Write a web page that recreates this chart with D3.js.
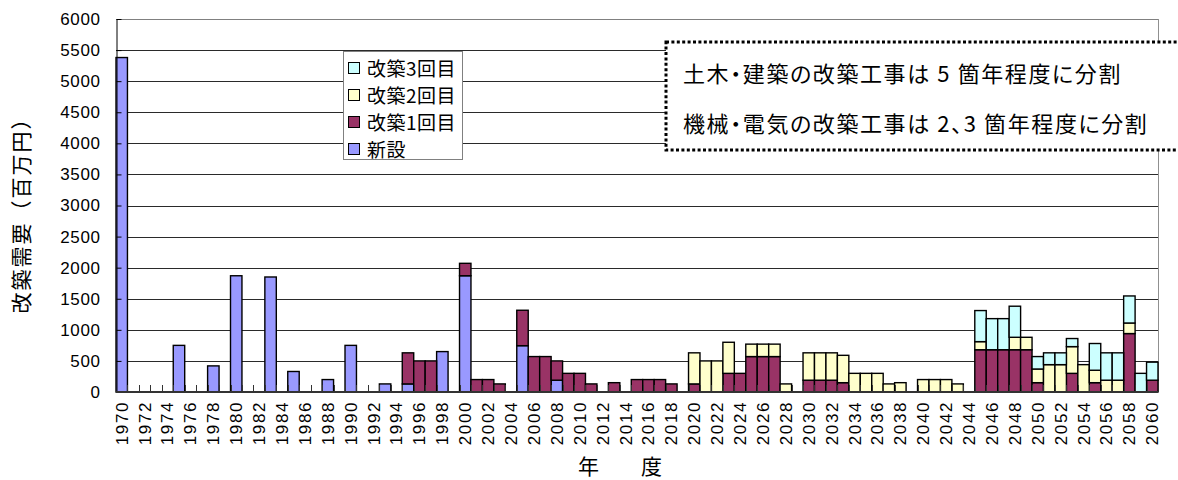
<!DOCTYPE html>
<html>
<head>
<meta charset="utf-8">
<script src="https://cdn.jsdelivr.net/npm/d3@7"></script>
<style>
  html, body { margin: 0; padding: 0; background: #fff; }
  svg { display: block; }
  .num { font-family: "Liberation Sans", Arial, sans-serif; font-size: 17px; fill: #000; letter-spacing: 0.6px; }
  .xnum { letter-spacing: 1.6px; }
  .jp { font-family: "Noto Sans CJK JP", "Noto Sans", sans-serif; fill: #000; }
  .palt { font-feature-settings: "palt" 1; }
</style>
</head>
<body>
<svg id="chart" width="1178" height="480"></svg>
<script>
// Fiscal years on the category axis
const years = [
  1970, 1971, 1972, 1973, 1974, 1975, 1976, 1977, 1978, 1979,
  1980, 1981, 1982, 1983, 1984, 1985, 1986, 1987, 1988, 1989,
  1990, 1991, 1992, 1993, 1994, 1995, 1996, 1997, 1998, 1999,
  2000, 2001, 2002, 2003, 2004, 2005, 2006, 2007, 2008, 2009,
  2010, 2011, 2012, 2013, 2014, 2015, 2016, 2017, 2018, 2019,
  2020, 2021, 2022, 2023, 2024, 2025, 2026, 2027, 2028, 2029,
  2030, 2031, 2032, 2033, 2034, 2035, 2036, 2037, 2038, 2039,
  2040, 2041, 2042, 2043, 2044, 2045, 2046, 2047, 2048, 2049,
  2050, 2051, 2052, 2053, 2054, 2055, 2056, 2057, 2058, 2059,
  2060
];

// 新設 (million yen)
const shinsetsu = [
  5380, 0, 0, 0, 0, 750, 0, 0, 420, 0,
  1870, 0, 0, 1850, 0, 330, 0, 0, 200, 0,
  750, 0, 0, 130, 0, 130, 0, 0, 650, 0,
  1870, 0, 0, 0, 0, 745, 0, 0, 190, 0,
  0, 0, 0, 0, 0, 0, 0, 0, 0, 0,
  0, 0, 0, 0, 0, 0, 0, 0, 0, 0,
  0, 0, 0, 0, 0, 0, 0, 0, 0, 0,
  0, 0, 0, 0, 0, 0, 0, 0, 0, 0,
  0, 0, 0, 0, 0, 0, 0, 0, 0, 0,
  0
];

// 改築1回目
const kaichiku1 = [
  0, 0, 0, 0, 0, 0, 0, 0, 0, 0,
  0, 0, 0, 0, 0, 0, 0, 0, 0, 0,
  0, 0, 0, 0, 0, 500, 500, 500, 0, 0,
  200, 200, 200, 130, 0, 570, 570, 570, 310, 300,
  300, 130, 0, 150, 0, 200, 200, 200, 130, 0,
  130, 0, 0, 300, 300, 570, 570, 570, 0, 0,
  190, 190, 190, 150, 0, 0, 0, 0, 0, 0,
  0, 0, 0, 0, 0, 680, 680, 680, 680, 680,
  150, 0, 0, 300, 0, 150, 0, 0, 940, 0,
  190
];

// 改築2回目
const kaichiku2 = [
  0, 0, 0, 0, 0, 0, 0, 0, 0, 0,
  0, 0, 0, 0, 0, 0, 0, 0, 0, 0,
  0, 0, 0, 0, 0, 0, 0, 0, 0, 0,
  0, 0, 0, 0, 0, 0, 0, 0, 0, 0,
  0, 0, 0, 0, 0, 0, 0, 0, 0, 0,
  500, 500, 500, 500, 0, 200, 200, 200, 130, 0,
  440, 440, 440, 440, 300, 300, 300, 130, 150, 0,
  200, 200, 200, 130, 0, 130, 0, 0, 200, 200,
  220, 440, 440, 430, 440, 200, 190, 190, 170, 0,
  0
];

// 改築3回目
const kaichiku3 = [
  0, 0, 0, 0, 0, 0, 0, 0, 0, 0,
  0, 0, 0, 0, 0, 0, 0, 0, 0, 0,
  0, 0, 0, 0, 0, 0, 0, 0, 0, 0,
  0, 0, 0, 0, 0, 0, 0, 0, 0, 0,
  0, 0, 0, 0, 0, 0, 0, 0, 0, 0,
  0, 0, 0, 0, 0, 0, 0, 0, 0, 0,
  0, 0, 0, 0, 0, 0, 0, 0, 0, 0,
  0, 0, 0, 0, 0, 500, 500, 500, 500, 0,
  200, 190, 190, 130, 0, 430, 440, 440, 435, 300,
  290
];

const seriesNames = ["新設", "改築1回目", "改築2回目", "改築3回目"];
const seriesColors = ["#9999FF", "#993366", "#FFFFCC", "#CCFFFF"];

const yTicks = [0, 500, 1000, 1500, 2000, 2500, 3000, 3500, 4000, 4500, 5000, 5500, 6000];
const xTickYears = [
  1970, 1972, 1974, 1976, 1978, 1980, 1982, 1984, 1986, 1988,
  1990, 1992, 1994, 1996, 1998, 2000, 2002, 2004, 2006, 2008,
  2010, 2012, 2014, 2016, 2018, 2020, 2022, 2024, 2026, 2028,
  2030, 2032, 2034, 2036, 2038, 2040, 2042, 2044, 2046, 2048,
  2050, 2052, 2054, 2056, 2058, 2060
];

const yTitle = "改築需要（百万円）";
const xTitle = "年　　度";
const noteLines = [
  "土木・建築の改築工事は 5 箇年程度に分割",
  "機械・電気の改築工事は 2、3 箇年程度に分割"
];

// ---- build table for the stack layout ----
const seriesArrays = [shinsetsu, kaichiku1, kaichiku2, kaichiku3];
const table = years.map((yr, i) => {
  const row = { year: yr };
  seriesNames.forEach((name, k) => { row[name] = seriesArrays[k][i]; });
  return row;
});

const svg = d3.select("#chart");
const plot = { left: 116, right: 1158, top: 19, bottom: 392 };

const x = d3.scaleBand().domain(years).range([plot.left, plot.right]).paddingInner(0).paddingOuter(0);
const y = d3.scaleLinear().domain([0, 6000]).range([plot.bottom, plot.top]);
const color = d3.scaleOrdinal().domain(seriesNames).range(seriesColors);
const crisp = v => Math.round(v) + 0.5;

// gridlines
svg.append("g")
  .selectAll("line")
  .data(yTicks.filter(v => v > 0 && v < 6000))
  .join("line")
  .attr("x1", plot.left).attr("x2", plot.right)
  .attr("y1", d => crisp(y(d))).attr("y2", d => crisp(y(d)))
  .attr("stroke", "#2a2a2a").attr("stroke-width", 1);

// plot-area frame (top and right)
svg.append("line")
  .attr("x1", plot.left).attr("x2", plot.right)
  .attr("y1", crisp(y(6000))).attr("y2", crisp(y(6000)))
  .attr("stroke", "#808080");
svg.append("line")
  .attr("x1", crisp(plot.right)).attr("x2", crisp(plot.right))
  .attr("y1", plot.top).attr("y2", plot.bottom)
  .attr("stroke", "#909090");

// stacked bars
const stacked = d3.stack().keys(seriesNames)(table);
svg.append("g")
  .selectAll("g")
  .data(stacked)
  .join("g")
  .attr("fill", d => color(d.key))
  .selectAll("rect")
  .data(d => d.filter(s => s[1] - s[0] > 0))
  .join("rect")
  .attr("x", d => x(d.data.year))
  .attr("width", x.bandwidth())
  .attr("y", d => y(d[1]))
  .attr("height", d => y(d[0]) - y(d[1]))
  .attr("stroke", "#000")
  .attr("stroke-width", 1.4);

// y axis: inward ticks, labels on the left
const yAxis = d3.axisLeft(y).tickValues(yTicks).tickFormat(d3.format("d"))
  .tickSizeInner(-5).tickSizeOuter(0).tickPadding(16);
const gy = svg.append("g").attr("transform", `translate(${crisp(plot.left)},0)`).call(yAxis);
gy.attr("font-family", null).attr("font-size", null);
gy.select(".domain").attr("stroke", "#000");
gy.selectAll(".tick line").attr("stroke", "#000");
gy.selectAll("text").attr("class", "num");

// x axis: labels every other year, rotated
const xAxis = d3.axisBottom(x).tickValues(xTickYears).tickSize(0).tickPadding(0);
const gx = svg.append("g").attr("transform", `translate(0,${plot.bottom})`).call(xAxis);
gx.attr("font-family", null).attr("font-size", null);
gx.select(".domain").remove();
gx.selectAll("text")
  .attr("class", "num xnum")
  .attr("transform", "rotate(-90)")
  .attr("x", -9).attr("y", 0).attr("dy", "0.35em")
  .style("text-anchor", "end");

// category boundary ticks pointing up into the plot
svg.append("g")
  .selectAll("line")
  .data(years.slice(1))
  .join("line")
  .attr("x1", d => crisp(x(d))).attr("x2", d => crisp(x(d)))
  .attr("y1", plot.bottom).attr("y2", plot.bottom - 7)
  .attr("stroke", "#333");

// baseline
svg.append("line")
  .attr("x1", plot.left).attr("x2", plot.right)
  .attr("y1", y(0)).attr("y2", y(0))
  .attr("stroke", "#333").attr("stroke-width", 2);

// axis titles
svg.append("text")
  .attr("class", "jp")
  .attr("transform", `translate(20,210) rotate(-90)`)
  .attr("text-anchor", "middle")
  .attr("dominant-baseline", "central")
  .attr("font-size", 21)
  .style("letter-spacing", "2px")
  .text(yTitle);

svg.append("text")
  .attr("class", "jp")
  .attr("x", 620).attr("y", 465)
  .attr("text-anchor", "middle")
  .attr("dominant-baseline", "central")
  .attr("font-size", 21)
  .text(xTitle);

// legend
const legend = svg.append("g");
legend.append("rect")
  .attr("x", 343.5).attr("y", 51.5).attr("width", 119).attr("height", 108)
  .attr("fill", "#fff").attr("stroke", "#808080");
const legendOrder = seriesNames.slice().reverse();
const rowY = d3.scalePoint().domain(legendOrder).range([67, 148]);
const items = legend.selectAll("g.item").data(legendOrder).join("g").attr("class", "item");
items.append("rect")
  .attr("x", 348.5).attr("y", d => Math.round(rowY(d) - 5.5) + 0.5)
  .attr("width", 11).attr("height", 11)
  .attr("fill", d => color(d)).attr("stroke", "#000");
items.append("text")
  .attr("class", "jp")
  .attr("x", 367).attr("y", d => rowY(d))
  .attr("dominant-baseline", "central")
  .attr("font-size", 19)
  .style("letter-spacing", "0.5px")
  .text(d => d);

// note box with dotted frame
const note = svg.append("g");
note.append("rect")
  .attr("x", 666).attr("y", 42).attr("width", 560).attr("height", 108)
  .attr("fill", "#fff").attr("stroke", "#000")
  .attr("stroke-width", 3).attr("stroke-dasharray", "3,2.4");
note.selectAll("text").data(noteLines).join("text")
  .attr("class", "jp palt")
  .attr("x", 683).attr("y", (d, i) => 72 + i * 50)
  .attr("dominant-baseline", "central")
  .attr("font-size", 22)
  .style("letter-spacing", "1.6px")
  .text(d => d);
</script>
</body>
</html>
